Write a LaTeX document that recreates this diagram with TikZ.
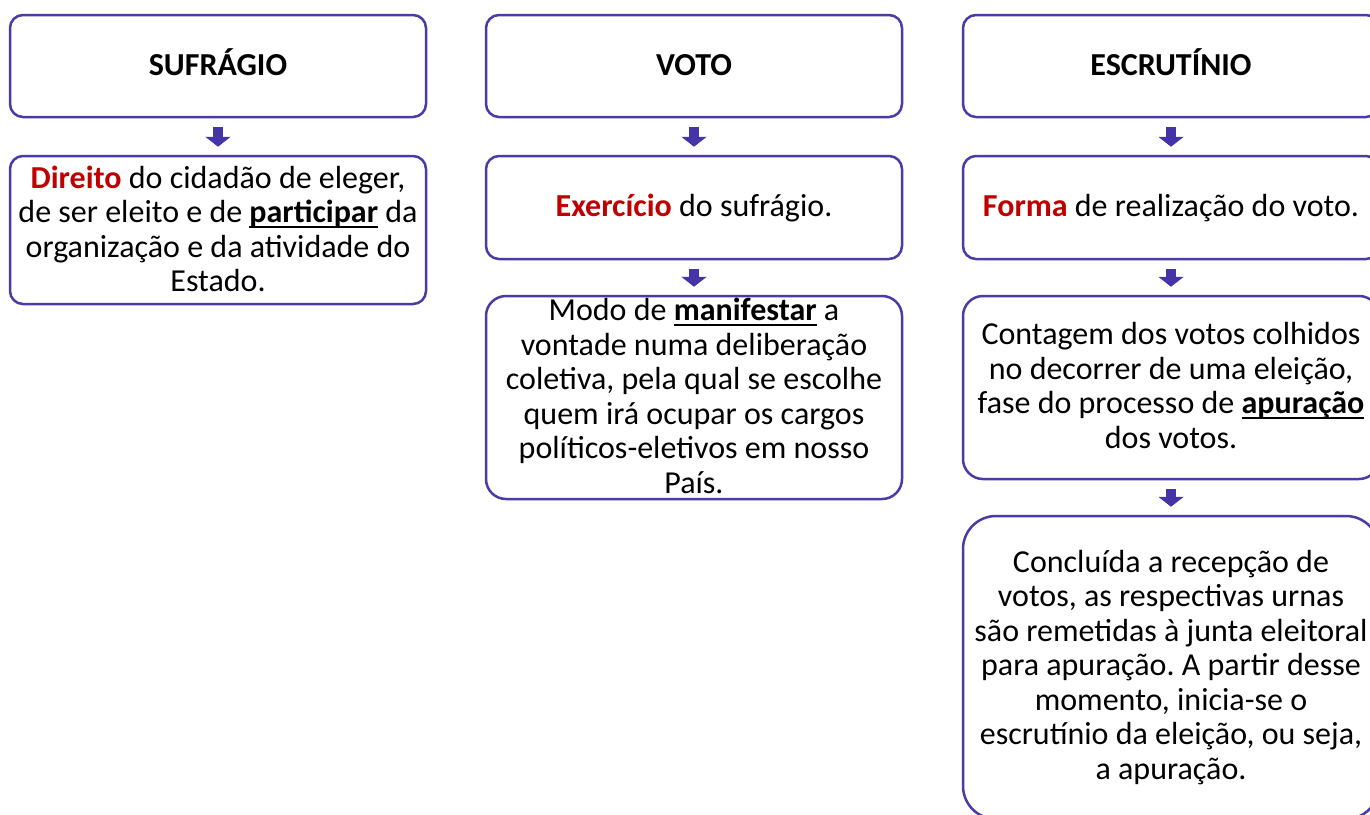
\documentclass[tikz,border=0pt]{standalone}
\usepackage{fontspec}
\setmainfont{Carlito}
\usetikzlibrary{arrows.meta}
\definecolor{bordc}{RGB}{75,58,168}
\definecolor{arrc}{RGB}{68,52,168}
\definecolor{redt}{RGB}{192,0,0}
\newcommand{\hl}[1]{\textcolor{redt}{\textbf{#1}}}
\newcommand{\uwd}[1]{\setbox0\hbox{\textbf{#1}}\rlap{\rule[-5.5pt]{\wd0}{2pt}}\box0\relax}
\newcommand{\mystrut}{\rule[-10pt]{0pt}{40pt}}
\frenchspacing
\setlength{\lineskiplimit}{-100pt}
\setlength{\lineskip}{0pt}
\begin{document}
\begin{tikzpicture}[x=1pt,y=-1pt,
 box/.style={draw=bordc,line width=2.5pt,rounded corners=13pt,minimum width=416pt,inner sep=0pt,fill=white},
 txt/.style={align=center,font=\fontsize{32}{34.5}\selectfont,inner sep=0pt,
   execute at begin node=\mystrut, execute at end node=\mystrut},
 ttl/.style={font=\fontsize{32}{34.5}\selectfont\bfseries,inner sep=0pt,
   execute at begin node=\mystrut},
 barrow/.style={-{Triangle[width=25pt,length=10pt]},line width=10pt,draw=arrc,shorten <=9pt,shorten >=8pt}]
\useasboundingbox (0,0) rectangle (1370,814);
\clip (0,0) rectangle (1370,814);
% boxes
\node[box,minimum height=102pt] (s1) at (218,66) {};
\node[box,minimum height=148pt] (s2) at (218,230) {};
\node[box,minimum height=102pt] (v1) at (694,66) {};
\node[box,minimum height=103pt] (v2) at (694,207.5) {};
\node[box,minimum height=203pt,rounded corners=20pt] (v3) at (694,397.5) {};
\node[box,minimum height=102pt] (e1) at (1171,66) {};
\node[box,minimum height=103pt] (e2) at (1171,207.5) {};
\node[box,minimum height=183pt,rounded corners=20pt] (e3) at (1171,387.5) {};
\node[box,minimum height=303pt,rounded corners=33pt] (e4) at (1171,667.5) {};
% arrows
\draw[barrow] (s1) -- (s2);
\draw[barrow] (v1) -- (v2);
\draw[barrow] (v2) -- (v3);
\draw[barrow] (e1) -- (e2);
\draw[barrow] (e2) -- (e3);
\draw[barrow] (e3) -- (e4);
% texts
\node[ttl] (s1t) at (218,65) {SUFRÁGIO};
\node[ttl] (v1t) at (694,65) {VOTO};
\node[ttl] (e1t) at (1171,65) {ESCRUTÍNIO};
\node[txt] (s2t) at (218,234) {\hl{Direito} do cidadão de eleger,\\ de ser eleito e de \uwd{participar} da\\ organização e da atividade do\\ Estado.};
\node[txt] (v2t) at (694,206.7) {\hl{Exercício} do sufrágio.};
\node[txt] (v3t) at (694,400.8) {Modo de \uwd{manifestar} a\\ vontade numa deliberação\\ coletiva, pela qual se escolhe\\ quem irá ocupar os cargos\\ políticos-eletivos em nosso\\ País.};
\node[txt] (e2t) at (1171,206.7) {\hl{Forma} de realização do voto.};
\node[txt] (e3t) at (1171,390.5) {Contagem dos votos colhidos\\ no decorrer de uma eleição,\\ fase do processo de \uwd{apuração}\\ dos votos.};
\node[txt] (e4t) at (1171,669.5) {Concluída a recepção de\\ votos, as respectivas urnas\\ são remetidas à junta eleitoral\\ para apuração. A partir desse\\ momento, inicia-se o\\ escrutínio da eleição, ou seja,\\ a apuração.};
\end{tikzpicture}
\end{document}
